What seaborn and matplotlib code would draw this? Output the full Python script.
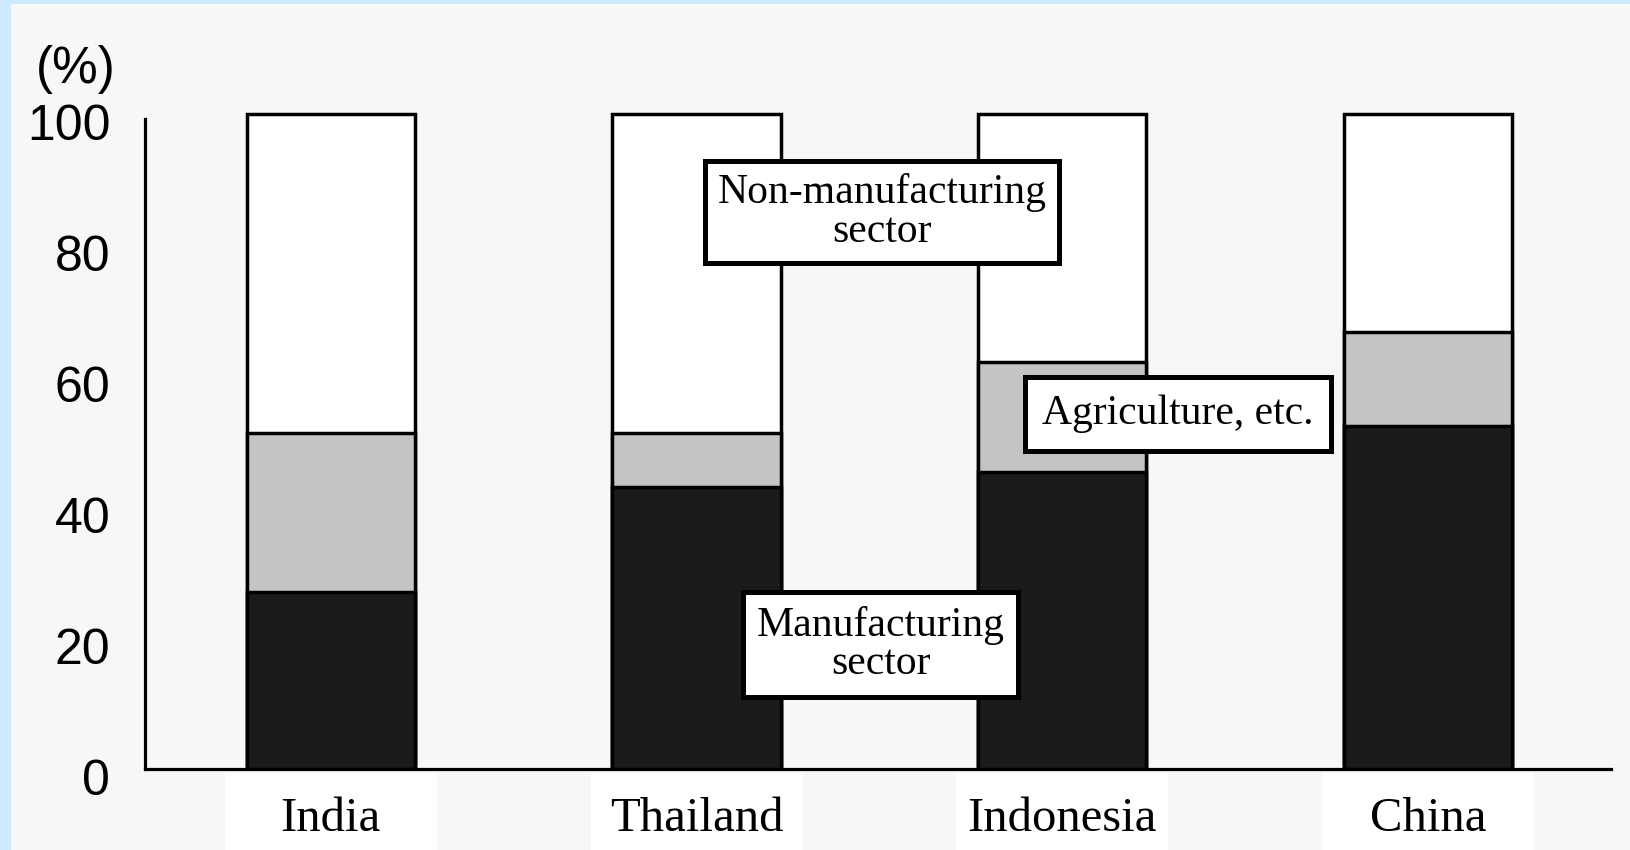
import matplotlib
matplotlib.use("Agg")
import matplotlib.pyplot as plt
import matplotlib.transforms as mtransforms
from matplotlib.patches import Rectangle
import pandas as pd
import seaborn as sns

# Data (share of each sector, %)
countries = ["India", "Thailand", "Indonesia", "China"]
manufacturing = [27.0, 43.0, 45.3, 52.4]
agriculture = [24.3, 8.3, 16.9, 14.4]
non_manufacturing = [48.7, 48.7, 37.8, 33.2]
y_ticks = [0, 20, 40, 60, 80, 100]

paper = "#f7f7f7"
edge_w = 2.5


def createStackedPlot():
    sns.set_style("white")
    plt.rcParams["font.family"] = ["Liberation Sans", "DejaVu Sans"]
    plt.rcParams["text.color"] = "black"
    plt.rcParams["xtick.color"] = "black"
    plt.rcParams["ytick.color"] = "black"

    fig = plt.figure(figsize=(16.3, 8.5), dpi=100)
    fig.patch.set_facecolor(paper)
    ax = fig.add_axes([0.089, 0.0953, 0.8993, 0.778])
    ax.set_facecolor(paper)

    # Cumulative heights for the stack
    df = pd.DataFrame({"Country": countries,
                       "Manufacturing": manufacturing,
                       "Agriculture": agriculture,
                       "Non": non_manufacturing})
    df["low"] = df["Manufacturing"]
    df["mid"] = df["low"] + df["Agriculture"]
    df["top"] = df["mid"] + df["Non"]

    # Draw tallest first so the lower segments sit on top
    for col, colour in [("top", "white"), ("mid", "#c4c4c4"), ("low", "#1b1b1b")]:
        sns.barplot(data=df, x="Country", y=col, color=colour, saturation=1,
                    width=0.46, edgecolor="black", linewidth=edge_w,
                    errorbar=None, ax=ax)

    # Axes styling
    ax.set_xlim(-0.508, 3.5)
    ax.set_ylim(0, 101)
    ax.set_xlabel("")
    ax.set_ylabel("")
    ax.set_yticks(y_ticks)
    for side in ["top", "right"]:
        ax.spines[side].set_visible(False)
    for side in ["left", "bottom"]:
        ax.spines[side].set_linewidth(2.3)
        ax.spines[side].set_color("black")
    ax.spines["left"].set_bounds(0, 99.3)
    ax.tick_params(axis="both", length=0)
    ax.tick_params(axis="y", pad=25, labelsize=36)
    ax.tick_params(axis="x", pad=20)
    for lab in ax.get_xticklabels():
        lab.set_fontfamily("Liberation Serif")
        lab.set_fontsize(35)
        lab.set_zorder(5)

    # The scanned numbers sit a little below their gridline positions
    shift = mtransforms.ScaledTranslation(0, -0.08, fig.dpi_scale_trans)
    for lab in ax.get_yticklabels():
        lab.set_transform(lab.get_transform() + shift)

    # White boxes behind the country names
    blend = mtransforms.blended_transform_factory(ax.transData, ax.transAxes)
    for i in range(len(countries)):
        ax.add_patch(Rectangle((i - 0.29, -0.125), 0.58, 0.119, transform=blend,
                               facecolor="white", edgecolor="none",
                               clip_on=False, zorder=0))

    # (%) unit label
    fig.text(0.0465, 0.918, "(%)", fontsize=37, ha="center", va="center")

    # Sector labels in framed boxes
    box = dict(boxstyle="square,pad=0.3", facecolor="white",
               edgecolor="black", linewidth=3.6)
    ax.text(1.507, 85.1, "Non-manufacturing\nsector", family="Liberation Serif",
            fontsize=30, ha="center", va="center", linespacing=1.0,
            bbox=box, zorder=6)
    ax.text(2.316, 54.2, "Agriculture, etc.", family="Liberation Serif",
            fontsize=30, ha="center", va="center",
            bbox=dict(box, boxstyle="square,pad=0.42"), zorder=6)
    ax.text(1.503, 19.0, "Manufacturing\nsector", family="Liberation Serif",
            fontsize=30, ha="center", va="center", linespacing=1.0,
            bbox=dict(box, boxstyle="square,pad=0.33"), zorder=6)

    # Light blue frame on the left and top edges
    fig.patches.append(Rectangle((0, 0), 11 / 1630, 1, transform=fig.transFigure,
                                 facecolor="#cdeaff", edgecolor="none"))
    fig.patches.append(Rectangle((0, 1 - 4 / 850), 1, 4 / 850, transform=fig.transFigure,
                                 facecolor="#cdeaff", edgecolor="none"))

    plt.savefig("out.png", dpi=100, facecolor=fig.get_facecolor())


createStackedPlot()
